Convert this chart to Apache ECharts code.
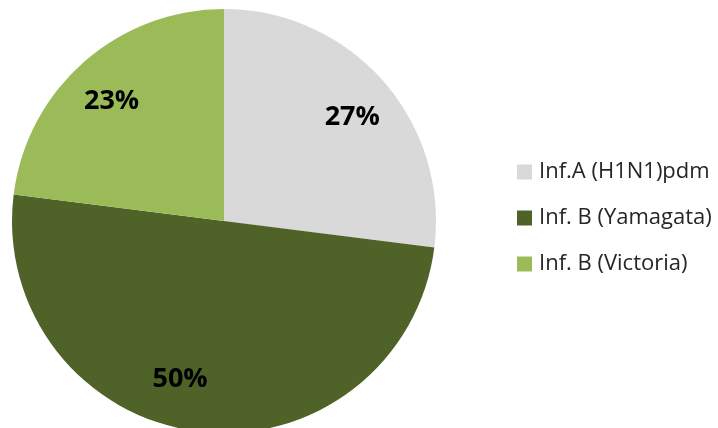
<!DOCTYPE html>
<html><head><meta charset="utf-8">
<script src="https://cdn.jsdelivr.net/npm/echarts@6/dist/echarts.min.js"></script>
<style>html,body{margin:0;padding:0;background:#fff;}#c{width:718px;height:428px;}</style>
</head><body><div id="c"></div>
<script>
const categories = ['Inf.A (H1N1)pdm', 'Inf. B (Yamagata)', 'Inf. B (Victoria)'];
const values = [27, 50, 23];
const colors = ['#D9D9D9', '#4F6228', '#9BBB59'];

const labelShift = [[3, 7], [-23, -7], [-2, 6]];
const data = categories.map((n, i) => ({name: n, value: values[i], itemStyle: {color: colors[i]}}));
const chart = echarts.init(document.getElementById('c'), null, {renderer: 'canvas'});
chart.setOption({
  animation: false,
  legend: {
    orient: 'vertical', left: 512, top: 152,
    icon: 'rect',
    itemWidth: 15, itemHeight: 15, itemGap: 16,
    textStyle: {fontFamily: 'Open Sans', fontSize: 22, lineHeight: 30, color: '#262626', padding: [0, 0, 0, 2]},
    data: categories
  },
  series: [{
    type: 'pie', center: [224, 221], radius: 212, startAngle: 90, clockwise: true,
    label: {show: false}, labelLine: {show: false}, silent: true,
    data: data
  }, {
    type: 'pie', center: [224, 221], radius: [116, 212], startAngle: 90, clockwise: true,
    silent: true, legendHoverLink: false,
    itemStyle: {color: 'rgba(0,0,0,0)'},
    label: {show: true, position: 'inside', formatter: '{c}%', fontFamily: 'Open Sans', fontWeight: 'bold', fontSize: 27, color: '#000'},
    labelLine: {show: false},
    labelLayout: function (p) { const s = labelShift[p.dataIndex]; return {dx: s[0], dy: s[1]}; },
    data: categories.map((n, i) => ({name: n + ' ', value: values[i]}))
  }]
});
</script></body></html>
